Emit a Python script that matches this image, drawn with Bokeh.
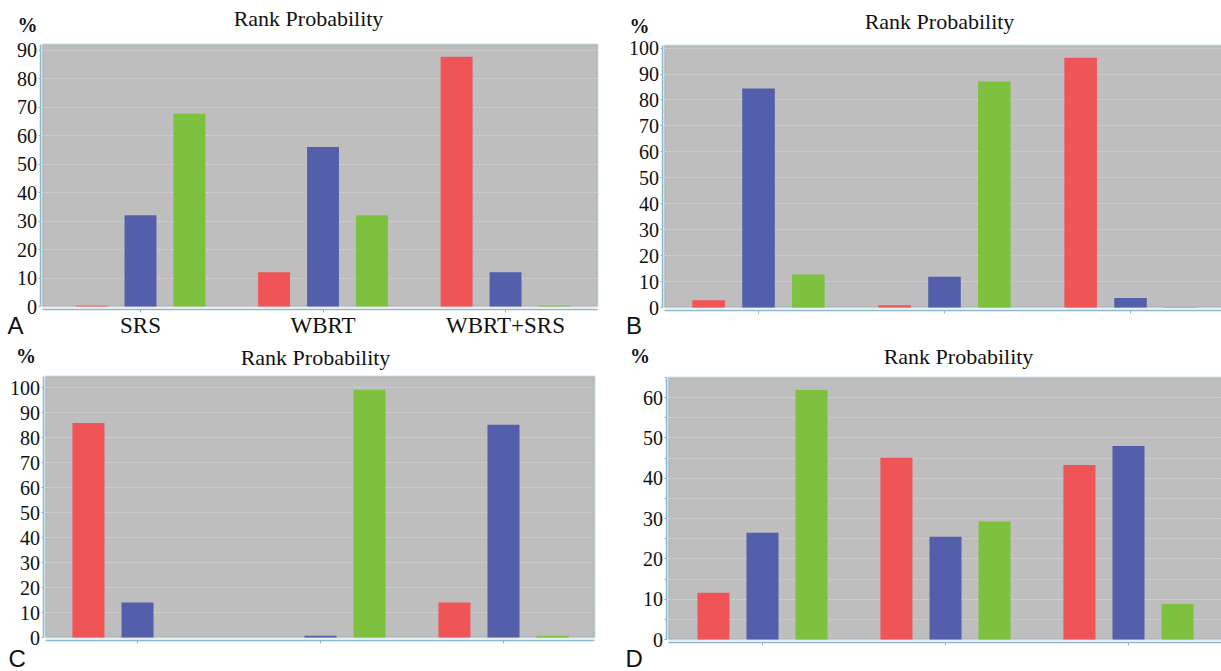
import numpy as np
from bokeh.plotting import figure
from bokeh.models import (Range1d, Label, SingleIntervalTicker, FixedTicker,
                          LinearAxis, Grid, BoxAnnotation)
from bokeh.layouts import row, column
from bokeh.embed import file_html
from bokeh.resources import INLINE

# ---------------- data ----------------
groups = ["SRS", "WBRT", "WBRT+SRS"]
series_colors = ["#EF5457", "#535FAB", "#7DC13F"]   # rank 1, rank 2, rank 3

a_red = [0.3, 12.0, 87.7]
a_blue = [32.0, 56.0, 12.0]
a_green = [67.7, 32.0, 0.3]

b_red = [2.8, 0.9, 96.3]
b_blue = [84.4, 11.9, 3.7]
b_green = [12.7, 87.1, 0.2]

c_red = [86.0, 0.0, 14.0]
c_blue = [14.0, 0.7, 85.3]
c_green = [0.0, 99.3, 0.7]

d_red = [11.6, 45.1, 43.3]
d_blue = [26.5, 25.5, 48.0]
d_green = [61.9, 29.3, 8.8]

y_max_a, y_max_b, y_max_c, y_max_d = 92, 101, 104.6, 65

title_text = "Rank Probability"
unit_text = "%"

SERIF = "Liberation Serif"
SANS = "Liberation Sans"
GRAY = "#BEBEBE"
FRAME = "#6E98A4"
AXIS = "#8DB6CF"
GRID = "#E0D3D3"
HAS_CROSS = "cross_bounds" in Grid.properties()
BASE_FIX = 0.4   # rendered baseline sits ~0.4em lower than requested


def make_panel(W, H, L, R, T, B, c0, s, ymax, series, letter,
               title_px, pct_px, letter_px, xlabels=False, minor=False):
    # pixel layout -> data ranges (frame covers the whole figure)
    k = (B - T) / ymax                  # px per unit (y)
    px2x = lambda px: (px - c0) / s
    px2y = lambda py: (B - py) / k
    x0, x1 = px2x(L), px2x(R)

    p = figure(width=W, height=H, output_backend="svg", toolbar_location=None,
               x_range=Range1d(px2x(0), px2x(W)), y_range=Range1d(px2y(H), px2y(0)),
               x_axis_location=None, y_axis_location=None,
               min_border_left=0, min_border_right=0,
               min_border_top=0, min_border_bottom=0)
    p.background_fill_color = "white"
    p.border_fill_color = "white"
    p.outline_line_color = None
    for g in p.xgrid + p.ygrid:
        g.visible = False

    # plot area
    p.add_layout(BoxAnnotation(left=x0, right=x1, bottom=0, top=ymax,
                               fill_color=GRAY, fill_alpha=1.0,
                               line_color=FRAME, line_width=2, level="image"))

    yticker = SingleIntervalTicker(interval=10, num_minor_ticks=2 if minor else 0)

    # grid lines
    if HAS_CROSS:
        grid = Grid(dimension=1, ticker=yticker, bounds=(0, ymax),
                    cross_bounds=(x0, x1), level="underlay")
        grid.grid_line_color = GRID
        grid.grid_line_dash = "2 2"
        grid.grid_line_width = 1
        if minor:
            grid.minor_grid_line_color = GRID
            grid.minor_grid_line_dash = "2 2"
        p.add_layout(grid, "center")
    else:
        step = 5 if minor else 10
        gy = np.arange(step, ymax, step)
        p.segment(x0=[x0] * len(gy), x1=[x1] * len(gy), y0=gy, y1=gy,
                  line_color=GRID, line_dash="2 2", line_width=1, level="underlay")

    idx = np.arange(len(groups))
    offsets = [-0.268, 0.0, 0.268]
    for vals, col, off in zip(series, series_colors, offsets):
        p.vbar(x=idx + off, top=vals, width=0.175, bottom=0,
               fill_color=col, line_color=None)

    # y axis (drawn just left of the plot area)
    yax = LinearAxis(fixed_location=px2x(L - 2.5), bounds=(0, ymax), ticker=yticker)
    yax.axis_line_color = AXIS
    yax.axis_line_width = 1.5
    yax.major_tick_line_color = AXIS
    yax.major_tick_out = 2
    yax.major_tick_in = 0
    if minor:
        yax.minor_tick_line_color = AXIS
        yax.minor_tick_out = 2
        yax.minor_tick_in = 0
    else:
        yax.minor_tick_line_color = None
    yax.major_label_standoff = 1
    yax.major_label_text_font = SERIF
    yax.major_label_text_font_size = "20px"
    yax.major_label_text_color = "#111111"
    p.add_layout(yax, "left")

    # x axis (drawn just below the plot area)
    xax = LinearAxis(fixed_location=px2y(B + 3), bounds=(x0, x1),
                     ticker=FixedTicker(ticks=[int(i) for i in idx]))
    xax.axis_line_color = AXIS
    xax.axis_line_width = 1.5
    xax.major_tick_line_color = AXIS
    xax.major_tick_out = 3
    xax.major_tick_in = 0
    xax.minor_tick_line_color = None
    xax.major_label_text_font = SERIF
    xax.major_label_text_font_size = "23px"
    xax.major_label_text_color = "#111111"
    xax.major_label_standoff = 0
    if xlabels:
        xax.major_label_overrides = {int(i): g for i, g in zip(idx, groups)}
    else:
        xax.major_label_text_color = None
    p.add_layout(xax, "below")

    def add_text(pos, text, font, size, align, style="normal"):
        p.add_layout(Label(x=px2x(pos[0]), y=px2y(pos[1] - BASE_FIX * size),
                           text=text, text_font=font, text_font_size=f"{size}px",
                           text_font_style=style, text_align=align,
                           text_baseline="alphabetic", text_color="#111111"))

    add_text(title_px, title_text, SERIF, 22, "center")
    add_text(pct_px, unit_text, SERIF, 20, "left", "bold")
    add_text(letter_px, letter, SANS, 24, "left")
    return p


pA = make_panel(610, 338, 42, 597, 44, 306, 140, 182.5, y_max_a,
                [a_red, a_blue, a_green], "A",
                (308, 26.5), (17, 32), (7, 335), xlabels=True)
pB = make_panel(611, 338, 54, 614, 45, 307, 148, 186, y_max_b,
                [b_red, b_blue, b_green], "B",
                (329, 30), (19, 33), (15.5, 335))
pC = make_panel(610, 333, 45, 594, 38, 299, 137, 183, y_max_c,
                [c_red, c_blue, c_green], "C",
                (315, 28), (15.6, 25), (8, 330))
pD = make_panel(611, 333, 58, 614, 39, 301, 152, 183, y_max_d,
                [d_red, d_blue, d_green], "D",
                (348, 27), (19.5, 25), (15, 330), minor=True)

layout = column(row(pA, pB), row(pC, pD))
open("out.html", "w").write(file_html(layout, INLINE))
